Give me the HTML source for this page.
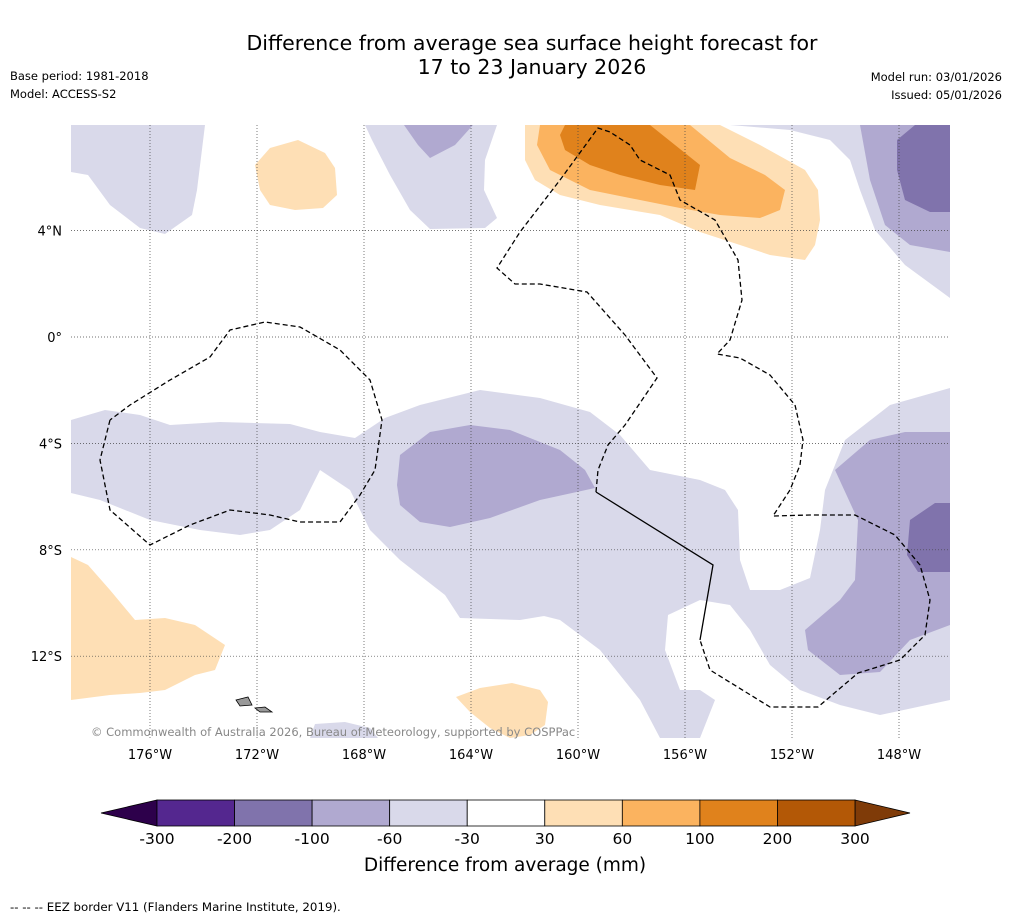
<!DOCTYPE html>
<html><head><meta charset="utf-8"><style>
body{margin:0;background:#fff;font-family:"DejaVu Sans","Liberation Sans",sans-serif;}
svg{display:block;font-family:"DejaVu Sans","Liberation Sans",sans-serif;}
</style></head><body>
<svg width="1011" height="919" viewBox="0 0 1011 919">
<rect width="1011" height="919" fill="#fff"/>
<text x="532" y="50" text-anchor="middle" font-size="20.5" fill="#000">Difference from average sea surface height forecast for</text>
<text x="532" y="74" text-anchor="middle" font-size="20.5" fill="#000">17 to 23 January 2026</text>
<text x="10" y="80" font-size="11.5">Base period: 1981-2018</text>
<text x="10" y="98" font-size="11.5">Model: ACCESS-S2</text>
<text x="1002" y="81" font-size="11.5" text-anchor="end">Model run: 03/01/2026</text>
<text x="1002" y="99" font-size="11.5" text-anchor="end">Issued: 05/01/2026</text>
<g>
<clipPath id="mc"><rect x="71" y="125" width="879" height="613"/></clipPath>
<g clip-path="url(#mc)" stroke="none">
<polygon fill="#d9d9ea" points="71,125 205,125 197,190 192,215 165,234 140,228 110,205 88,175 71,172"/>
<polygon fill="#d9d9ea" points="365,125 497,125 485,160 484,190 497,218 485,228 430,229 410,210 390,175 372,140"/>
<polygon fill="#b0a9d0" points="404,125 473,125 455,145 430,158 418,145"/>
<polygon fill="#d9d9ea" points="730,125 950,125 950,298 905,265 875,230 860,190 850,160 830,140 790,130"/>
<polygon fill="#b0a9d0" points="860,125 950,125 950,252 910,245 885,225 870,180"/>
<polygon fill="#8073ac" points="897,140 915,125 950,125 950,212 930,212 905,200 897,170"/>
<polygon fill="#d9d9ea" points="71,420 105,410 140,415 170,425 220,422 290,424 320,432 355,438 385,418 420,405 480,390 540,398 590,412 620,435 650,470 700,480 725,490 738,510 740,560 750,590 780,590 810,578 820,530 825,490 845,440 890,405 950,388 950,700 880,715 840,705 800,690 770,665 750,630 730,605 700,600 668,615 665,650 680,690 700,690 715,700 700,738 660,738 640,700 600,650 560,620 540,615 530,590 520,565 560,550 600,548 610,560 615,590 595,605 550,615 520,620 460,618 445,595 400,560 370,530 350,490 320,470 300,510 270,530 240,535 200,530 150,520 100,500 71,493"/>
<polygon fill="#d9d9ea" points="310,738 315,724 345,722 370,728 378,738"/>
<polygon fill="#b0a9d0" points="400,455 430,432 470,425 510,430 560,450 585,470 595,488 540,500 490,518 450,527 420,522 400,505 397,485"/>
<polygon fill="#b0a9d0" points="835,470 870,440 905,432 950,432 950,625 910,640 880,672 840,675 808,650 805,630 840,600 855,580 858,520"/>
<polygon fill="#8073ac" points="910,520 935,503 950,503 950,572 918,572 907,555"/>
<polygon fill="#fedfb5" points="255,165 270,148 298,140 325,153 335,168 337,195 323,208 295,210 270,205 260,190"/>
<polygon fill="#fedfb5" points="71,557 88,565 110,590 135,620 165,618 195,625 225,645 215,670 195,675 165,690 140,693 110,695 71,700"/>
<polygon fill="#fedfb5" points="456,697 480,688 512,683 540,690 548,702 545,725 530,735 510,738 490,728 470,712"/>
<polygon fill="#fedfb5" points="525,125 720,125 760,145 805,170 818,190 820,220 815,245 805,260 770,255 740,245 700,232 660,215 600,205 560,195 535,180 525,160"/>
<polygon fill="#fbb35f" points="540,125 690,125 730,158 765,175 785,190 780,210 760,218 720,215 680,208 640,200 590,190 550,170 537,145"/>
<polygon fill="#e0821c" points="565,125 650,125 700,165 695,190 660,185 620,175 590,165 565,150 560,135"/>
<g fill="#999" stroke="#000" stroke-width="0.8">
<polygon points="236,700 248,697 252,705 240,706"/><polygon points="255,708 265,707 272,712 260,712"/>
</g>
</g>
<g id="grid" stroke="#444" stroke-width="0.7" stroke-dasharray="1,2"></g>
<g fill="none" stroke="#000" stroke-width="1.3">
<polyline stroke-dasharray="5,3" points="110,420 100,460 110,510 150,545 190,525 230,510 270,515 300,522 340,522 360,495 375,470 382,420 370,380 340,350 300,327 265,322 230,330 210,357 170,380 130,405 110,420"/>
<polyline stroke-dasharray="5,3" points="596,492 598,470 608,445 625,425 657,378 625,335 587,292 540,284 515,284 497,268 520,232 560,180 598,128 610,132 630,145 640,160 670,175 680,200 715,220 738,260 742,300 730,340 717,354 740,358 770,375 795,405 803,440 800,465 790,490 773,516 810,515 855,515 895,535 920,565 930,600 925,635 900,660 858,673 818,707 770,707 710,670 700,640"/>
<polyline points="596,492 713,565 700,640"/>
</g>
<text x="91" y="736" font-size="11.5" fill="#888">© Commonwealth of Australia 2026, Bureau of Meteorology, supported by COSPPac</text>
<g id="axes" font-size="13" fill="#000"></g>
</g>
<g id="cbar"></g>
<text x="505" y="871" text-anchor="middle" font-size="18.5">Difference from average (mm)</text>
<text x="10" y="911" font-size="11.8">--  --  -- EEZ border V11 (Flanders Marine Institute, 2019).</text>
</svg>
<script>
const lonTicks=[-176,-172,-168,-164,-160,-156,-152,-148];
const latTicks=[4,0,-4,-8,-12];
const levels=[-300,-200,-100,-60,-30,30,60,100,200,300];
const colors=['#54278f','#8073ac','#b0a9d0','#d9d9ea','#ffffff','#fedfb5','#fbb35f','#e0821c','#b35806'];
const NS='http://www.w3.org/2000/svg';
const xLon=l=>150+(l+176)*26.75;
const yLat=v=>337-v*26.6;
function mk(t,a,p){const e=document.createElementNS(NS,t);for(const k in a)e.setAttribute(k,a[k]);p.appendChild(e);return e;}
const g=document.getElementById('grid'),ax=document.getElementById('axes');
lonTicks.forEach(l=>{const x=xLon(l);
const ln=mk('line',{x1:x,x2:x,y1:125,y2:738},g);


const t=mk('text',{x:x,y:759,'text-anchor':'middle'},ax);t.textContent=Math.abs(l)+'°W';

});
latTicks.forEach(v=>{const y=yLat(v);
const ln=mk('line',{x1:71,x2:950,y1:y,y2:y},g);


const t=mk('text',{x:62,y:y+5,'text-anchor':'end'},ax);t.textContent=v===0?'0°':Math.abs(v)+'°'+(v>0?'N':'S');

});
const cb=document.getElementById('cbar');const x0=157,x1=855,w=(x1-x0)/colors.length;
const lt=mk('polygon',{points:`${x0},800 ${x0},826 101,813`,fill:'#2d004b',stroke:'#000','stroke-width':0.8},cb);


const rt=mk('polygon',{points:`${x1},800 ${x1},826 910,813`,fill:'#7f3b08',stroke:'#000','stroke-width':0.8},cb);


colors.forEach((c,i)=>{const r=mk('rect',{x:x0+i*w,y:800,width:w,height:26,fill:c,stroke:'#000','stroke-width':0.8},cb);

});
levels.forEach((v,i)=>{const t=mk('text',{x:x0+i*w,y:844,'text-anchor':'middle','font-size':15.5},cb);t.textContent=v;

});
</script>
</body></html>
